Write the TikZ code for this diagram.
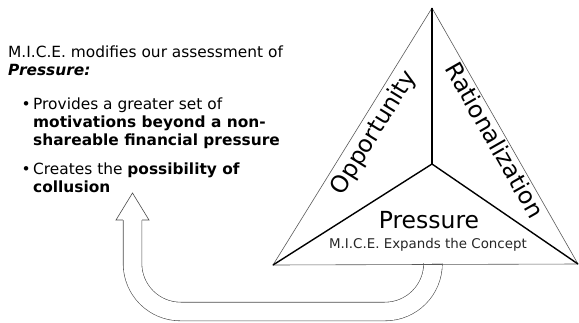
\documentclass[tikz,border=0pt]{standalone}
\usepackage{fontspec}
\setmainfont{DejaVu Sans}
\usetikzlibrary{positioning}

\begin{document}
\begin{tikzpicture}[x=1pt,y=-1pt,
    txt/.style={font=\fontsize{15.4}{18.5}\selectfont, inner sep=0pt, anchor=base west},
    side/.style={draw=black!65, line width=0.6pt},
    spoke/.style={draw=black, line width=1.4pt},
    big/.style={font=\fontsize{23.5}{26}\selectfont, inner sep=0pt},
    small/.style={font=\fontsize{13.4}{15}\selectfont, inner sep=0pt, text=black!85},
    hollow/.style={draw=black!70, line width=0.6pt}]
\useasboundingbox (0,0) rectangle (579,322);
% the triangle
\coordinate (apex) at (432,8);
\coordinate (bl) at (273,265);
\coordinate (br) at (578,264);
\coordinate (ctr) at (432,164);
% hollow arrow from the triangle back to the text
\coordinate (from) at (433,264.5);
\coordinate (base) at (132.5,220);
\coordinate (tip) at (132.5,193);
\draw[hollow, double=white, double distance=18pt, rounded corners=48pt]
  (from) -- (433,311.5) -- (132.5,311.5) -- (base);
\draw[hollow, fill=white] ([xshift=-9.6pt]base) -- ([xshift=-16.5pt]base) -- (tip) -- ([xshift=16.5pt]base) -- ([xshift=9.6pt]base);
\draw[side] (bl) -- (apex) -- (br) -- cycle;
\draw[spoke] (apex) -- (ctr);
\draw[spoke] (bl) -- (ctr) -- (br);
\node[big, rotate=58.3] (opp) at (374,133) {Opportunity};
\node[big, rotate=-60.3] (rat) at (495,140) {Rationalization};
\node[big, anchor=base] (pres) at (429,228.5) {Pressure};
\node[small, anchor=base] (mice) at (428,248.5) {M.I.C.E. Expands the Concept};
% text on the left
\node[txt] (head1) at (8,57.3) {M.I.C.E. modifies our assessment of};
\node[txt] (head2) at (8,75) {\textbf{\textit{Pressure:}}};
\node[txt] (b1a) at (33,109.3) {\llap{\textbullet\hspace{2.5pt}}Provides a greater set of};
\node[txt] (b1b) at (33,127.5) {\textbf{motivations beyond a non-}};
\node[txt] (b1c) at (33,145.5) {\textbf{shareable financial pressure}};
\node[txt] (b2a) at (33,174) {\llap{\textbullet\hspace{2.5pt}}Creates the \textbf{possibility of}};
\node[txt] (b2b) at (33,192) {\textbf{collusion}};
\end{tikzpicture}
\end{document}
